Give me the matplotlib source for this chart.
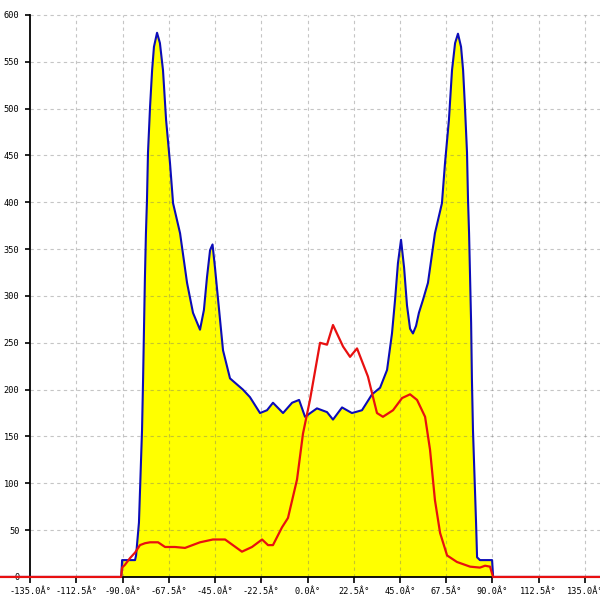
import numpy as np
import matplotlib.pyplot as plt

# blue outline / yellow fill (angle in degrees, value)
blue_deg = [-180, -90.6, -90.2, -83.9, -83.4, -82.0, -80.5, -80.0, -79.5, -79.1,
            -78.6, -78.1, -77.6, -76.6, -75.6, -74.7, -73.2, -71.8, -70.3, -68.8,
            -66.9, -65.4, -62.0, -58.6, -55.7, -52.3, -50.4, -48.9, -47.4, -46.2,
            -45.0, -43.5, -41.1, -37.7, -31.4, -28.0, -23.1, -19.7, -16.8, -11.9,
            -7.5, -4.1, -1.2, 4.6, 9.5, 12.4, 16.8, 21.6, 26.5, 31.4,
            35.3, 38.7, 41.1, 42.6, 44.0, 45.5, 47.0, 48.4, 49.9, 51.3,
            52.8, 54.2, 56.2, 58.6, 62.0, 65.4, 66.9, 68.8, 70.3, 71.8,
            73.2, 74.7, 75.7, 76.6, 77.6, 78.1, 78.6, 79.1, 79.6, 80.0,
            80.5, 82.0, 82.5, 83.9, 89.8, 90.3, 180]
blue_val = [0, 0, 18, 18, 23, 58, 157, 210, 271, 319,
            367, 402, 453, 502, 541, 566, 581, 570, 541, 488,
            442, 399, 367, 314, 282, 264, 285, 320, 349, 355,
            330, 296, 242, 212, 200, 192, 175, 178, 186, 175,
            186, 189, 171, 180, 176, 168, 181, 175, 178, 195,
            202, 221, 260, 296, 335, 360, 330, 290, 265, 260,
            268, 282, 296, 314, 367, 399, 442, 488, 541, 570,
            580, 566, 541, 502, 453, 402, 367, 319, 271, 210,
            157, 58, 21, 18, 18, 0, 0]

# red line
red_deg = [-180, -90.7, -90.2, -88.8, -86.4, -83.9, -81.5, -79.1, -76.6, -72.7,
           -69.3, -64.5, -59.6, -52.3, -46.0, -40.1, -31.9, -27.0, -22.1, -19.2,
           -16.8, -12.4, -9.5, -5.1, -2.2, 1.2, 6.1, 9.5, 12.4, 17.3,
           20.7, 24.1, 29.4, 33.8, 36.7, 41.6, 46.0, 49.9, 53.3, 57.2,
           59.6, 62.0, 64.5, 67.9, 72.7, 79.1, 83.9, 86.4, 88.8, 90.3, 180]
red_val = [0, 0, 10, 13, 20, 26, 34, 36, 37, 37,
           32, 32, 31, 37, 40, 40, 27, 32, 40, 34,
           34, 53, 63, 104, 153, 189, 250, 248, 269, 246,
           235, 244, 214, 175, 171, 178, 191, 195, 189, 171,
           136, 82, 47, 23, 16, 11, 10, 12, 11, 0, 0]

xticks = [-135, -112.5, -90, -67.5, -45, -22.5, 0, 22.5, 45, 67.5, 90, 112.5, 135]
xlabels = ['%.1fÂ°' % t for t in xticks]
yticks = list(range(0, 601, 50))

fig = plt.figure(figsize=(6, 6), dpi=100)
ax = fig.add_axes([0, 0, 1, 1])
ax.set_xlim(-149.6, 142.3)
ax.set_ylim(-24.6, 616)

ax.fill_between(blue_deg, 0, blue_val, color='#ffff00', lw=0, zorder=1)

# dashed grid
ax.hlines(yticks[1:], -135, 142.3, colors='#707070', alpha=0.4, lw=0.8,
          linestyles=(0, (3, 3)), zorder=1.5)
ax.vlines(xticks[1:], 0, 600, colors='#707070', alpha=0.4, lw=0.8,
          linestyles=(0, (3, 3)), zorder=1.5)

ax.plot(blue_deg, blue_val, color='#0c0cb8', lw=1.5, zorder=3)
ax.plot(red_deg, red_val, color='#e81010', lw=1.6, zorder=4)

for s in ['top', 'right']:
    ax.spines[s].set_visible(False)
ax.spines['left'].set_position(('data', -135))
ax.spines['left'].set_bounds(0, 600)
ax.spines['bottom'].set_position(('data', 0))
ax.spines['left'].set_linewidth(1.3)
ax.spines['bottom'].set_linewidth(1.3)

ax.set_xticks(xticks)
ax.set_xticklabels(xlabels, family='DejaVu Sans Mono', fontsize=6.2)
ax.set_yticks(yticks)
ax.set_yticklabels([str(v) for v in yticks], family='DejaVu Sans Mono', fontsize=6.2)
ax.tick_params(axis='x', direction='out', length=4.5, width=1.2, pad=2.5)
ax.tick_params(axis='y', direction='out', length=3.5, width=1.2, pad=4)

fig.savefig('out.png', dpi=100)
